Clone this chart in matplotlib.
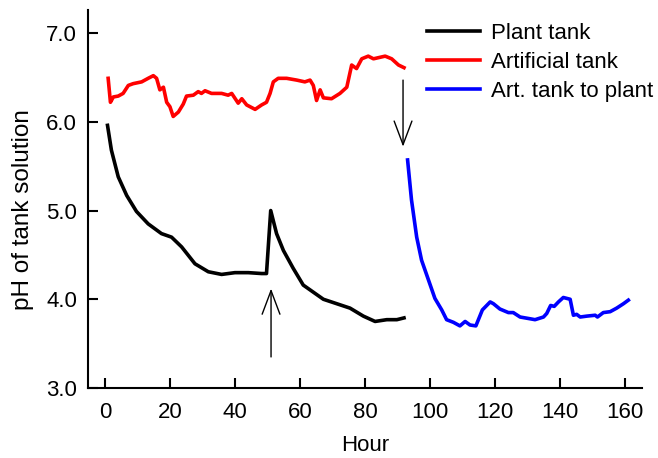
import numpy as np
import matplotlib
matplotlib.use('Agg')
import matplotlib.pyplot as plt

plt.rcParams['font.family'] = ['Liberation Sans', 'DejaVu Sans']

# plant tank
plant_h = [0.8, 2.0, 4.1, 6.7, 9.7, 13.3, 17.4, 20.5, 23.6, 27.7, 31.8, 35.9, 40.0, 44.1,
           48.2, 49.7, 51.0, 52.8, 54.9, 57.9, 61.0, 64.1, 67.2, 71.3, 75.4, 79.5, 83.1,
           86.7, 89.8, 92.0]
plant_ph = [5.96, 5.68, 5.38, 5.17, 4.99, 4.85, 4.74, 4.70, 4.59, 4.40, 4.31, 4.28, 4.30, 4.30,
            4.29, 4.29, 5.00, 4.74, 4.55, 4.35, 4.16, 4.08, 4.00, 3.95, 3.90, 3.81, 3.75,
            3.77, 3.77, 3.79]

# artificial tank
art_h = [1.0, 1.7, 2.6, 4.1, 5.6, 7.2, 8.7, 11.3, 13.3, 14.9, 15.9, 16.9, 18.0, 19.0, 20.0,
         21.0, 22.6, 24.1, 25.1, 27.2, 28.7, 29.7, 30.8, 32.8, 35.9, 37.9, 39.0, 41.0, 42.1,
         43.6, 46.2, 48.2, 49.7, 50.8, 51.8, 53.3, 55.9, 59.0, 61.5, 63.1, 64.1, 65.1, 66.2,
         67.2, 69.7, 72.3, 74.4, 75.9, 77.4, 79.0, 81.0, 82.6, 86.2, 88.2, 90.3, 92.0]
art_ph = [6.49, 6.22, 6.28, 6.29, 6.32, 6.41, 6.43, 6.45, 6.49, 6.52, 6.49, 6.36, 6.39, 6.22, 6.17,
          6.06, 6.11, 6.20, 6.29, 6.30, 6.34, 6.32, 6.35, 6.32, 6.32, 6.30, 6.32, 6.21, 6.26,
          6.19, 6.14, 6.19, 6.22, 6.32, 6.45, 6.49, 6.49, 6.47, 6.45, 6.47, 6.41, 6.24, 6.36,
          6.27, 6.26, 6.32, 6.39, 6.64, 6.60, 6.71, 6.74, 6.71, 6.74, 6.71, 6.64, 6.61]

# artificial tank moved to plant
mix_h = [93.1, 94.3, 95.9, 97.4, 99.5, 101.5, 103.6, 105.1, 107.2, 109.2, 110.8, 112.3, 114.1,
         116.1, 118.5, 119.5, 121.5, 124.1, 125.6, 127.7, 130.8, 132.3, 134.9, 135.9, 137.1,
         138.2, 139.5, 141.0, 143.1, 144.1, 145.1, 146.2, 148.2, 150.8, 151.5, 153.3, 155.4,
         157.4, 159.5, 161.0]
mix_ph = [5.57, 5.12, 4.70, 4.44, 4.22, 4.01, 3.88, 3.77, 3.74, 3.70, 3.75, 3.71, 3.70,
          3.88, 3.97, 3.95, 3.89, 3.85, 3.85, 3.80, 3.78, 3.77, 3.80, 3.84, 3.93,
          3.92, 3.97, 4.02, 4.00, 3.82, 3.83, 3.80, 3.81, 3.82, 3.80, 3.85, 3.86,
          3.90, 3.95, 3.99]

# arrows: (x, tail y, head y)
arrow1 = (51.1, 3.35, 4.12)
arrow2 = (91.7, 6.47, 5.72)

fig = plt.figure(figsize=(6.58, 4.58), dpi=100)
ax = fig.add_axes([88/658, 1-388/458, 554/658, 378/458])

ax.plot(plant_h, plant_ph, color='black', lw=2.6, label='Plant tank')
ax.plot(art_h, art_ph, color='#ff0000', lw=2.6, label='Artificial tank')
ax.plot(mix_h, mix_ph, color='#0000ff', lw=2.6, label='Art. tank to plant')

for x, y0, y1 in [arrow1, arrow2]:
    ax.annotate('', xy=(x, y1), xytext=(x, y0),
                arrowprops=dict(arrowstyle='->,head_length=0.85,head_width=0.32',
                                color='black', lw=1.0, mutation_scale=20,
                                shrinkA=0, shrinkB=0))

ax.set_xlim(-5.2, 165.2)
ax.set_ylim(3.0, 7.26)
ax.set_xticks(np.arange(0, 161, 20))
ax.set_yticks(np.arange(3, 7.1, 1))
ax.set_yticklabels(['3.0', '4.0', '5.0', '6.0', '7.0'])
ax.spines['top'].set_visible(False)
ax.spines['right'].set_visible(False)
for s in ['left', 'bottom']:
    ax.spines[s].set_linewidth(1.5)
ax.tick_params(direction='in', length=7, width=1.5, labelsize=16)
ax.tick_params(axis='x', pad=10)
ax.tick_params(axis='y', pad=8)
ax.set_xlabel('Hour', fontsize=16)
ax.set_ylabel('pH of tank solution', fontsize=17.5)
ax.xaxis.set_label_coords(0.5, -(435-388)/378)
ax.yaxis.set_label_coords((34-88)/554, 1-(210-10)/378)

ax.legend(loc='upper left', bbox_to_anchor=(427/658, 1-23/458), bbox_transform=fig.transFigure,
          frameon=False, fontsize=16, handlelength=2.4, handletextpad=0.5,
          borderpad=0, borderaxespad=0, labelspacing=0.36)

fig.savefig('out.png', dpi=100)
